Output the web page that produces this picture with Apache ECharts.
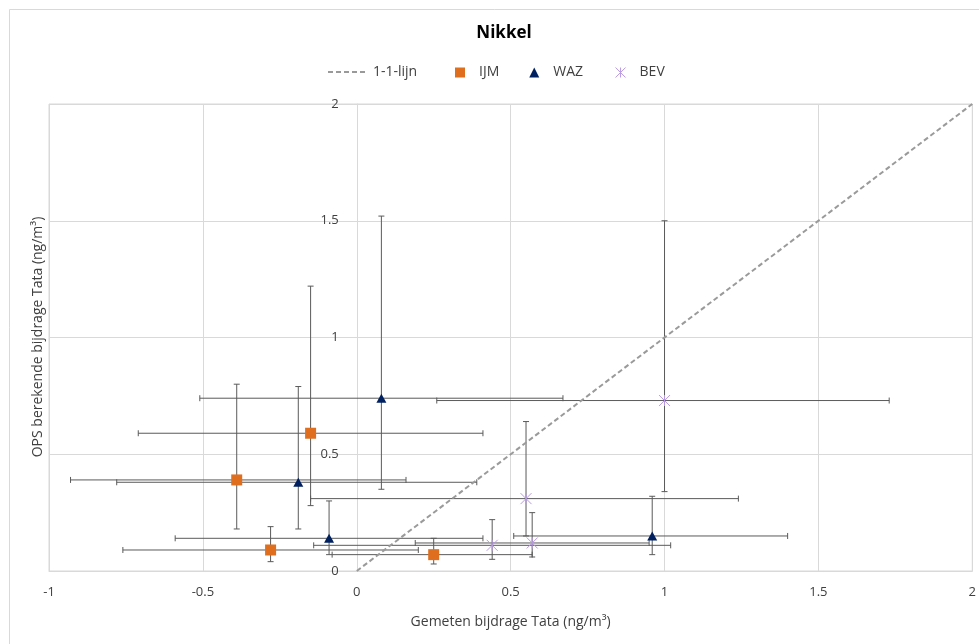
<!DOCTYPE html>
<html>
<head>
<meta charset="utf-8">
<script src="https://cdn.jsdelivr.net/npm/echarts@6/dist/echarts.min.js"></script>
<style>
html,body{margin:0;padding:0;background:#fff;}
#chart{width:979px;height:644px;}
</style>
</head>
<body>
<div id="chart"></div>
<script>
// ---- Data ----
var oneToOne = [[0, 0], [2, 2]];

var ijmX     = [-0.15, -0.39, -0.28, 0.25];
var ijmY     = [0.59, 0.39, 0.09, 0.07];
var ijmXLow  = [-0.71, -0.93, -0.76, -0.08];
var ijmXHigh = [0.41, 0.16, 0.20, 0.57];
var ijmYLow  = [0.28, 0.18, 0.04, 0.03];
var ijmYHigh = [1.22, 0.80, 0.19, 0.14];

var wazX     = [0.08, -0.19, -0.09, 0.96];
var wazY     = [0.74, 0.38, 0.14, 0.15];
var wazXLow  = [-0.51, -0.78, -0.59, 0.51];
var wazXHigh = [0.67, 0.39, 0.41, 1.40];
var wazYLow  = [0.35, 0.18, 0.07, 0.07];
var wazYHigh = [1.52, 0.79, 0.30, 0.32];

var bevX     = [1.00, 0.55, 0.44, 0.57];
var bevY     = [0.73, 0.31, 0.11, 0.12];
var bevXLow  = [0.26, -0.15, -0.14, 0.19];
var bevXHigh = [1.73, 1.24, 1.02, 0.95];
var bevYLow  = [0.34, 0.15, 0.05, 0.06];
var bevYHigh = [1.50, 0.64, 0.22, 0.25];

var xTicks = [-1, -0.5, 0, 0.5, 1, 1.5, 2];
var yTicks = [0, 0.5, 1, 1.5, 2];
var yAxisCrossesAt = 0;   // y axis drawn where x = 0

// ---- Build ----
function points(xs, ys) {
  return xs.map(function (x, i) { return [x, ys[i]]; });
}
function errRows(xs, ys, xl, xh, yl, yh) {
  return xs.map(function (x, i) { return [x, ys[i], xl[i], xh[i], yl[i], yh[i]]; });
}
var FONT = 'Open Sans';
var errColor = '#5a5a5a';
var cap = 3;
var GRID_LEFT = 49;

function renderErr(params, api) {
  var x = api.value(0), y = api.value(1);
  var xl = api.value(2), xh = api.value(3), yl = api.value(4), yh = api.value(5);
  var pL = api.coord([xl, y]), pR = api.coord([xh, y]);
  var pB = api.coord([x, yl]), pT = api.coord([x, yh]);
  var st = { stroke: errColor, lineWidth: 1 };
  function ln(x1, y1, x2, y2) {
    return { type: 'line', shape: { x1: x1, y1: y1, x2: x2, y2: y2 }, style: st };
  }
  return {
    type: 'group',
    children: [
      ln(pL[0], pL[1], pR[0], pR[1]),
      ln(pL[0], pL[1] - cap, pL[0], pL[1] + cap),
      ln(pR[0], pR[1] - cap, pR[0], pR[1] + cap),
      ln(pB[0], pB[1], pT[0], pT[1]),
      ln(pB[0] - cap, pB[1], pB[0] + cap, pB[1]),
      ln(pT[0] - cap, pT[1], pT[0] + cap, pT[1])
    ]
  };
}
function errSeries(name, rows) {
  return {
    name: name, type: 'custom', renderItem: renderErr, data: rows,
    encode: { x: 0, y: 1 }, z: 2, silent: true, clip: false
  };
}

var colIJM = '#DF6F1F', colWAZ = '#002060', colBEV = '#B99AE3';
var starPath = 'path://M0,0L10,10M10,0L0,10M5,0L5,10';

var chart = echarts.init(document.getElementById('chart'), null, { renderer: 'canvas' });
chart.setOption({
  animation: false,
  backgroundColor: '#ffffff',
  textStyle: { fontFamily: FONT },
  title: {
    text: 'Nikkel', left: 499, top: 20, textAlign: 'center',
    textStyle: { fontFamily: FONT, fontSize: 17, fontWeight: 'bold', color: '#000' }
  },
  legend: [
    {
      data: [{ name: '1-1-lijn', itemStyle: { opacity: 0 } }],
      left: 322, top: 60, itemWidth: 40, itemHeight: 12,
      textStyle: { fontFamily: FONT, fontSize: 14, color: '#404040' }
    },
    {
      data: ['IJM', 'WAZ', { name: 'BEV', itemStyle: { borderWidth: 1 } }],
      left: 450, top: 60, itemWidth: 10, itemHeight: 10,
      itemGap: 30,
      textStyle: { fontFamily: FONT, fontSize: 14, color: '#404040', padding: [0, 0, 0, 9] }
    }
  ],
  grid: {
    left: GRID_LEFT, right: 6, top: 104, bottom: 73, containLabel: false,
    show: true, borderColor: '#d9d9d9', borderWidth: 1, backgroundColor: 'transparent'
  },
  xAxis: {
    type: 'value', min: -1, max: 2, interval: 0.5,
    axisLine: { show: true, onZero: false, lineStyle: { color: '#d9d9d9' } },
    axisTick: { show: false },
    splitLine: { show: true, lineStyle: { color: '#d9d9d9' } },
    axisLabel: {
      margin: 15, color: '#404040', fontFamily: FONT, fontSize: 13,
      formatter: function (v) { return xTicks.indexOf(v) >= 0 ? String(v) : ''; }
    },
    name: 'Gemeten bijdrage Tata (ng/m\u00B3)', nameLocation: 'middle', nameGap: 44,
    nameTextStyle: { color: '#404040', fontFamily: FONT, fontSize: 14 }
  },
  yAxis: {
    type: 'value', min: 0, max: 2, interval: 0.5, position: 'left',
    axisLine: { show: true, onZero: false, lineStyle: { color: '#d9d9d9' } },
    axisTick: { show: false },
    splitLine: { show: true, lineStyle: { color: '#d9d9d9' } },
    axisLabel: {
      margin: 18, color: '#404040', fontFamily: FONT, fontSize: 13,
      formatter: function (v) { return yTicks.indexOf(v) >= 0 ? String(v) : ''; }
    }
  },
  graphic: [
    {
      type: 'rect', left: 7, top: 7, silent: true, z: -10,
      shape: { width: 1000, height: 1000 },
      style: { fill: 'none', stroke: '#d9d9d9', lineWidth: 1 }
    },
    {
      type: 'text', silent: true,
      rotation: Math.PI / 2,
      style: {
        text: 'OPS berekende bijdrage Tata (ng/m\u00B3)', fill: '#404040',
        font: '14px "Open Sans"', textAlign: 'center', textVerticalAlign: 'middle'
      },
      x: 38, y: 337
    }
  ],
  series: [
    {
      name: '1-1-lijn', type: 'line', data: oneToOne, symbol: 'none', z: 3,
      lineStyle: { color: '#9a9a9a', width: 2, type: [5, 3] },
      itemStyle: { color: '#9a9a9a' }
    },
    errSeries('IJM-err', errRows(ijmX, ijmY, ijmXLow, ijmXHigh, ijmYLow, ijmYHigh)),
    errSeries('WAZ-err', errRows(wazX, wazY, wazXLow, wazXHigh, wazYLow, wazYHigh)),
    errSeries('BEV-err', errRows(bevX, bevY, bevXLow, bevXHigh, bevYLow, bevYHigh)),
    {
      name: 'IJM', type: 'scatter', data: points(ijmX, ijmY), symbol: 'rect', symbolSize: 11, z: 5,
      itemStyle: { color: colIJM, opacity: 1 }
    },
    {
      name: 'WAZ', type: 'scatter', data: points(wazX, wazY), symbol: 'triangle', symbolSize: [10, 9], z: 5,
      itemStyle: { color: colWAZ, opacity: 1 }
    },
    {
      name: 'BEV', type: 'scatter', data: points(bevX, bevY), symbol: starPath, symbolSize: 11, z: 5,
      itemStyle: { color: 'none', borderColor: colBEV, borderWidth: 1, opacity: 1 }
    }
  ]
});

// Move the y axis to x = 0 using the library's own x scale
var zeroPx = chart.convertToPixel({ xAxisIndex: 0 }, yAxisCrossesAt);
chart.setOption({ yAxis: { offset: GRID_LEFT - zeroPx } });
</script>
</body>
</html>
